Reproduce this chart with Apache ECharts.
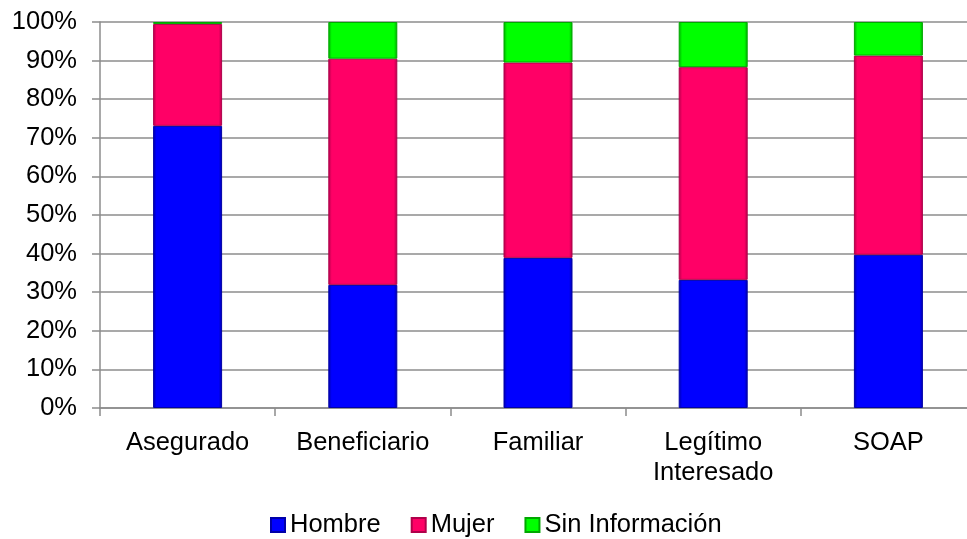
<!DOCTYPE html>
<html><head><meta charset="utf-8">
<script src="https://cdn.jsdelivr.net/npm/echarts@6/dist/echarts.min.js"></script>
<style>html,body{margin:0;padding:0;background:#fff;overflow:hidden;width:967px;height:539px}#c{width:990px;height:539px}</style>
</head><body><div id="c"></div>
<script>
const categories = ['Asegurado', 'Beneficiario', 'Familiar', 'Legítimo\nInteresado', 'SOAP'];
const hombre = [73.1, 31.9, 38.9, 33.2, 39.7];
const mujer = [26.4, 58.6, 50.6, 55.1, 51.6];
const sinInfo = [0.5, 9.5, 10.5, 11.7, 8.7];
const yTicks = [0, 10, 20, 30, 40, 50, 60, 70, 80, 90, 100];

const chart = echarts.init(document.getElementById('c'), null, {renderer: 'canvas'});
const font = 'Liberation Sans, Arial, sans-serif';
function grad(mid, dark) {
  return new echarts.graphic.LinearGradient(0, 0, 1, 0, [
    {offset: 0, color: dark}, {offset: 0.05, color: mid}, {offset: 0.95, color: mid}, {offset: 1, color: dark}
  ]);
}
const mk = (name, data, mid, dark) => ({
  name, type: 'bar', stack: 'total', data, barWidth: 69,
  itemStyle: {color: grad(mid, dark), borderColor: dark, borderWidth: 1},
  emphasis: {disabled: true}
});
chart.setOption({
  animation: false,
  textStyle: {fontFamily: font},
  grid: {left: 100, top: 22, width: 876, height: 386, containLabel: false},
  legend: {
    top: 507, left: 265, itemWidth: 14, itemHeight: 14, itemGap: 30,
    icon: 'rect',
    textStyle: {fontSize: 25.5, color: '#000', fontFamily: font},
    data: ['Hombre', 'Mujer', 'Sin Información']
  },
  xAxis: {
    type: 'category', data: categories,
    axisLine: {lineStyle: {color: '#8c8c8c', width: 1.5}},
    axisTick: {show: true, length: 8, lineStyle: {color: '#8c8c8c', width: 1.5}},
    axisLabel: {fontSize: 25.5, color: '#000', margin: 20, lineHeight: 30, fontFamily: font}
  },
  yAxis: {
    type: 'value', min: 0, max: 100, interval: 10,
    axisLine: {show: true, lineStyle: {color: '#8c8c8c', width: 1.5}},
    axisTick: {show: true, length: 8, lineStyle: {color: '#8c8c8c', width: 1.5}},
    splitLine: {lineStyle: {color: '#8c8c8c', width: 1.5}},
    axisLabel: {fontSize: 25.5, color: '#000', margin: 23, fontFamily: font,
      formatter: v => yTicks.includes(v) ? v + '%' : ''}
  },
  series: [
    mk('Hombre', hombre, '#0000ff', '#0000a8'),
    mk('Mujer', mujer, '#ff0066', '#b0004a'),
    mk('Sin Información', sinInfo, '#00ff00', '#00a800')
  ]
});
</script></body></html>
